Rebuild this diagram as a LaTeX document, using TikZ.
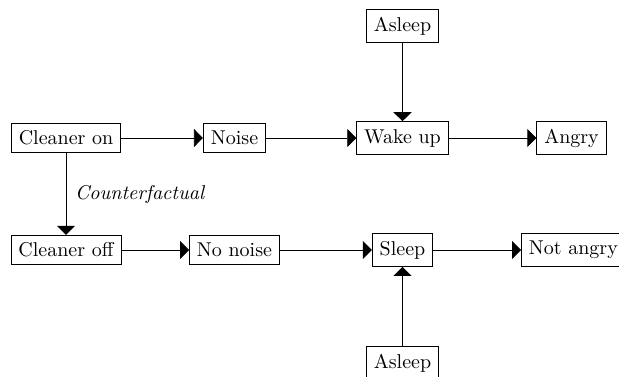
\documentclass[tikz,border=0pt]{standalone}
\usetikzlibrary{arrows.meta}

\begin{document}
\begin{tikzpicture}[x=0.5pt, y=0.5pt,
  box/.style={draw, inner sep=3.75pt},
  arr/.style={-{Triangle[length=4.5pt, width=9pt]}}]
\useasboundingbox (0,0) rectangle (619,376);
\clip (0,0) rectangle (619,376);
% factual row
\node[box] (on) at (66,238) {Cleaner on};
\node[box] (noise) at (234.5,238) {Noise};
\node[box] (wake) at (402.5,238) {Wake up};
\node[box] (angry) at (571.5,238) {Angry};
\node[box] (asleepA) at (402.5,350) {Asleep};
% counterfactual row
\node[box] (off) at (66,126) {Cleaner off};
\node[box] (nonoise) at (234.5,126) {No noise};
\node[box] (sleep) at (402.5,126) {Sleep};
\node[box, anchor=west] (notangry) at (521,126) {Not angry};
\node[box, anchor=north] (asleepB) at (402.5,30) {Asleep};
% connectors
\draw[arr] (on) -- (noise);
\draw[arr] (noise) -- (wake);
\draw[arr] (wake) -- (angry);
\draw[arr] (asleepA) -- (wake);
\draw[arr] (off) -- (nonoise);
\draw[arr] (nonoise) -- (sleep);
\draw[arr] (sleep) -- (notangry);
\draw[arr] (asleepB) -- (sleep);
\draw[arr] (on) -- node[right=1pt] {\itshape Counterfactual} (off);
\end{tikzpicture}
\end{document}
